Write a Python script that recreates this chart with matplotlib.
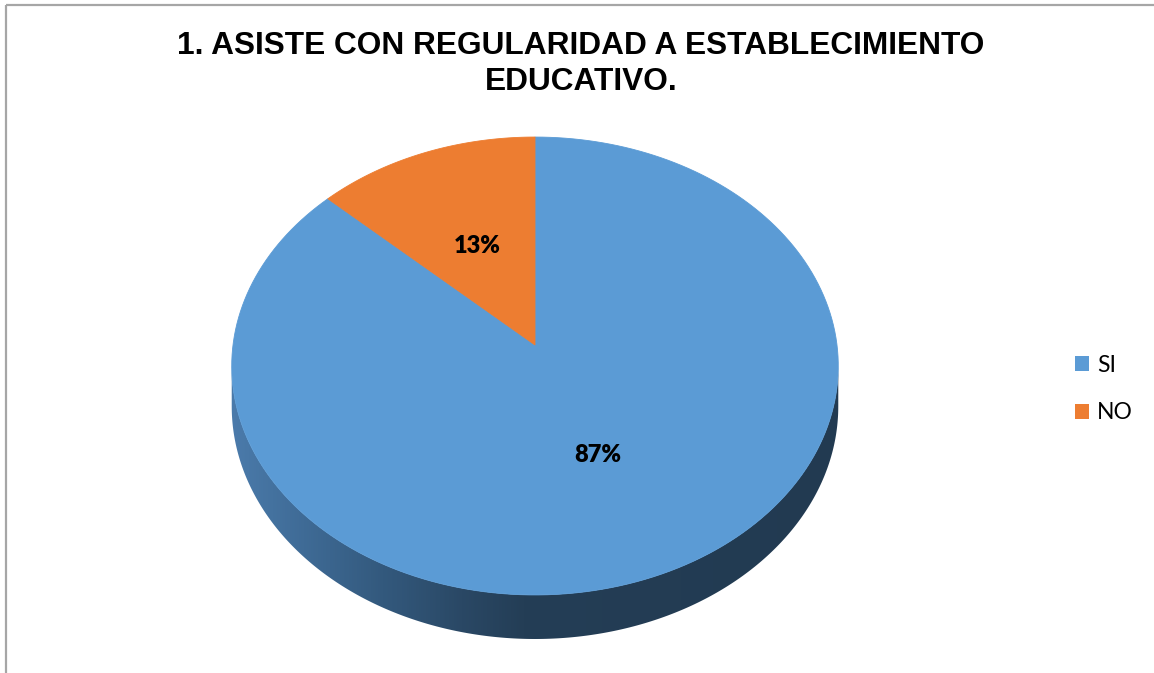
import numpy as np
import matplotlib
matplotlib.use("Agg")
import matplotlib.pyplot as plt
from matplotlib.patches import Polygon, Patch
from matplotlib.colors import LinearSegmentedColormap

# ── Data ────────────────────────────────────────────────────────────────────
TITLE = "1. ASISTE CON REGULARIDAD A ESTABLECIMIENTO\nEDUCATIVO."
labels = ["SI", "NO"]
values = [87, 13]
colors = ["#5B9BD5", "#ED7D31"]

# ── Geometry of the 3D pie (pixel space, y down) ────────────────────────────
W, H = 1154, 673
CX = 535.0          # screen x of pie centre
APEX_Y = 345.0      # screen y of pie centre on the top face
A0 = 302.0          # horizontal radius
A_Y = 195.4         # vertical radius term
PERSP = -0.0917     # perspective term
DEPTH = 40.0        # thickness of the pie

plt.rcParams.update({
    "font.family": ["Lato", "DejaVu Sans"],
    "figure.facecolor": "white",
})


def project(u, v):
    """u to the right, v toward the viewer (down on screen)."""
    d = 1.0 + PERSP * v
    x = CX + A0 * u / d
    y = (APEX_Y + A_Y * v) / d
    return x, y, d


def rim(theta0, theta1, n=200):
    # theta measured clockwise from 12 o'clock, in degrees
    t = np.radians(np.linspace(theta0, theta1, n))
    return np.sin(t), -np.cos(t)


fig = plt.figure(figsize=(W / 100, H / 100), dpi=100)
ax = fig.add_axes([0, 0, 1, 1])
ax.set_xlim(0, W)
ax.set_ylim(H, 0)
ax.axis("off")

# chart frame (only top and left edges are visible in the crop)
ax.plot([6, W], [5, 5], color="#a6a6a6", lw=1.6, solid_capstyle="butt")
ax.plot([6, 6], [5, H], color="#a6a6a6", lw=1.6, solid_capstyle="butt")

# ── Side wall (front half only) ─────────────────────────────────────────────
phi_s = np.arcsin(-PERSP)
phi = np.linspace(phi_s, np.pi - phi_s, 300)
u, v = np.cos(phi), np.sin(phi)
tx, ty, td = project(u, v)
bx, by = tx, ty + DEPTH / td
side_xy = np.column_stack([np.r_[tx, bx[::-1]], np.r_[ty, by[::-1]]])
side = Polygon(side_xy, closed=True, facecolor="none", edgecolor="none")
ax.add_patch(side)

side_cmap = LinearSegmentedColormap.from_list(
    "side",
    [(0.0, "#4b7bab"), (0.12, "#3f6b96"), (0.25, "#33597d"),
     (0.38, "#2a4865"), (0.48, "#243e56"), (1.0, "#223a51")],
)
grad = np.linspace(0, 1, 512)[None, :]
x_lo, x_hi = CX - A0 * 1.01, CX + A0 * 1.01
im = ax.imshow(grad, cmap=side_cmap, aspect="auto",
               extent=(x_lo, x_hi, 660, 330), zorder=1)
im.set_clip_path(side)

# ── Top face wedges (Excel: start at 12 o'clock, clockwise) ─────────────────
fracs = np.array(values, dtype=float) / np.sum(values)
bounds = np.r_[0, np.cumsum(fracs)] * 360.0
for i, col in enumerate(colors):
    uu, vv = rim(bounds[i], bounds[i + 1])
    wx, wy, _ = project(uu, vv)
    px, py, _ = project(0.0, 0.0)
    poly = Polygon(np.column_stack([np.r_[px, wx], np.r_[py, wy]]),
                   closed=True, facecolor=col, edgecolor=col, lw=0.6, zorder=2)
    ax.add_patch(poly)

    # data label
    mid = np.radians((bounds[i] + bounds[i + 1]) / 2)
    lx, ly, _ = project(0.5 * np.sin(mid), -0.5 * np.cos(mid))
    ax.text(lx, ly + 1, f"{values[i]}%", ha="center", va="center",
            fontsize=17, fontweight="heavy", color="black", zorder=3)

# ── Title ───────────────────────────────────────────────────────────────────
ax.text(581, 64, TITLE, ha="center", va="center", family="Liberation Sans",
        fontsize=22.8, fontweight="bold", color="black", linespacing=1.3)

# ── Legend ──────────────────────────────────────────────────────────────────
handles = [Patch(facecolor=c, edgecolor="none") for c in colors]
ax.legend(handles, labels, loc="center left",
          bbox_to_anchor=(1075 / W, 1 - 389 / H),
          frameon=False, fontsize=16.5, handlelength=0.62, handleheight=0.62,
          handletextpad=0.35, labelspacing=1.15, borderpad=0, borderaxespad=0)

fig.savefig("out.png", dpi=100)
